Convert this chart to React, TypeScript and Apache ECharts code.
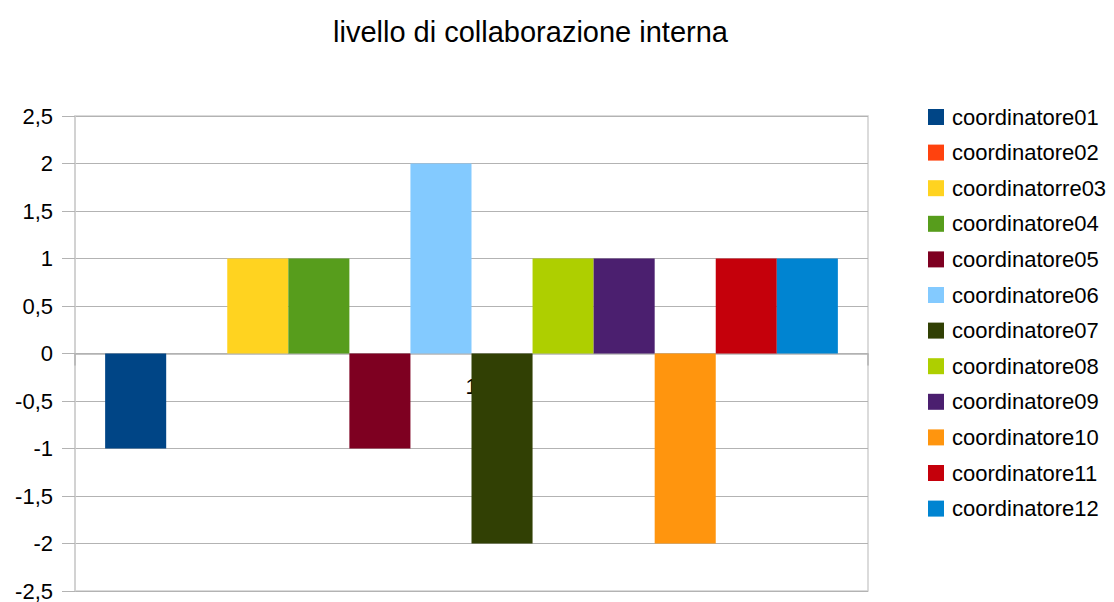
import React, { useEffect, useRef } from "react";
import * as echarts from "echarts";

const titleText = "livello di collaborazione interna";
const categories = ["1"];
const seriesNames = [
  "coordinatore01",
  "coordinatore02",
  "coordinatorre03",
  "coordinatore04",
  "coordinatore05",
  "coordinatore06",
  "coordinatore07",
  "coordinatore08",
  "coordinatore09",
  "coordinatore10",
  "coordinatore11",
  "coordinatore12",
];
const seriesValues = [-1, 0, 1, 1, -1, 2, -2, 1, 1, -2, 1, 1];
const seriesColors = [
  "#004586",
  "#ff420e",
  "#ffd320",
  "#579d1c",
  "#7e0021",
  "#83caff",
  "#314004",
  "#aecf00",
  "#4b1f6f",
  "#ff950e",
  "#c5000b",
  "#0084d1",
];
const yMin = -2.5;
const yMax = 2.5;
const yStep = 0.5;

const FONT = "'Liberation Sans', Arial, sans-serif";

export default function App() {
  const ref = useRef<HTMLDivElement>(null);
  useEffect(() => {
    if (!ref.current) return;
    const chart = echarts.init(ref.current, null, { renderer: "svg" });
    chart.setOption({
      animation: false,
      backgroundColor: "#ffffff",
      textStyle: { fontFamily: FONT },
      title: {
        text: titleText,
        left: 333,
        top: 17,
        padding: 0,
        textStyle: { fontFamily: FONT, fontSize: 29, fontWeight: "normal", color: "#000" },
      },
      legend: {
        orient: "vertical",
        left: 928,
        top: 105,
        padding: 0,
        itemWidth: 16,
        itemHeight: 16,
        itemGap: 11.6,
        icon: "rect",
        textStyle: { fontFamily: FONT, fontSize: 22, color: "#000", lineHeight: 24, padding: [0, 0, 0, 3] },
        data: seriesNames,
      },
      grid: {
        left: 75,
        right: 246,
        top: 116,
        bottom: 11,
        outerBoundsMode: "none",
        containLabel: false,
        show: true,
        borderColor: "#cfcfcf",
        borderWidth: 1.5,
        backgroundColor: "transparent",
      },
      xAxis: [
        {
          type: "category",
          data: categories,
          axisLine: { show: true, onZero: true, lineStyle: { color: "#b3b3b3", width: 1.5 } },
          axisTick: { show: true, length: 12, lineStyle: { color: "#b3b3b3", width: 1.5 } },
          axisLabel: { show: false },
          splitLine: { show: false },
        },
        {
          type: "category",
          data: categories,
          position: "bottom",
          offset: -238,
          axisLine: { show: false, onZero: false },
          axisTick: { show: false },
          axisLabel: { fontFamily: FONT, fontSize: 22, color: "#000", margin: 22 },
          splitLine: { show: false },
        },
      ],
      yAxis: {
        type: "value",
        min: yMin,
        max: yMax,
        interval: yStep,
        axisLine: { show: true, lineStyle: { color: "#cfcfcf", width: 1.5 } },
        axisTick: { show: true, length: 13, lineStyle: { color: "#b3b3b3" } },
        axisLabel: {
          fontFamily: FONT,
          fontSize: 22,
          color: "#000",
          margin: 22,
          formatter: (v: number) => String(v).replace(".", ","),
        },
        splitLine: { show: true, lineStyle: { color: "#b3b3b3", width: 1 } },
      },
      series: seriesNames.map((name, i) => ({
        name,
        type: "bar",
        xAxisIndex: 0,
        data: [seriesValues[i]],
        barGap: "0%",
        barCategoryGap: "7.6%",
        itemStyle: { color: seriesColors[i] },
      })),
    });
    return () => chart.dispose();
  }, []);
  return <div ref={ref} style={{ width: 1114, height: 602, position: "absolute", left: 0, top: 0 }} />;
}
